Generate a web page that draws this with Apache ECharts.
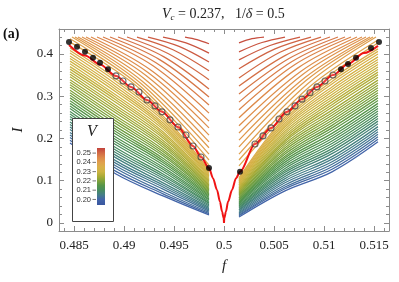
<!DOCTYPE html>
<html><head><meta charset="utf-8">
<script src="https://cdn.jsdelivr.net/npm/echarts@6/dist/echarts.min.js"></script>
<style>html,body{margin:0;padding:0;background:#fff}#c{width:399px;height:282px}</style>
</head><body><div id="c"></div>
<script>
// ---------- data ----------
const xTicks = [0.485, 0.49, 0.495, 0.5, 0.505, 0.51, 0.515];
const xMinor = [0.484,0.486,0.487,0.488,0.489,0.491,0.492,0.493,0.494,0.496,0.497,0.498,0.499,0.501,0.502,0.503,0.504,0.506,0.507,0.508,0.509,0.511,0.512,0.513,0.514,0.516];
const yTicks = [0, 0.1, 0.2, 0.3, 0.4];
const yMinor = [0.02,0.04,0.06,0.08,0.12,0.14,0.16,0.18,0.22,0.24,0.26,0.28,0.32,0.34,0.36,0.38,0.42,0.44];
const barTickV = [0.25, 0.24, 0.23, 0.22, 0.21, 0.20];
const barTickLabels = ['0.25','0.24','0.23','0.22','0.21','0.20'];

// V values of the contour lines
const vBelow = [0.200,0.201,0.202,0.203,0.204,0.205,0.206,0.207,0.208,0.209,0.210,0.211,0.212,0.213,0.214,0.215,0.216,0.217,0.218,0.219,0.220,0.221,0.222,0.223,0.224,0.225,0.226,0.227,0.228,0.229,0.230,0.231,0.232,0.233,0.234,0.235,0.236];
const vAbove = [0.238,0.239,0.240,0.241,0.242,0.243,0.244,0.245,0.246,0.247,0.248,0.249,0.250,0.251,0.252,0.253,0.254];

// left block, lines below the critical curve: I at these f
const leftBelowF = [0.4846, 0.4892, 0.4939, 0.4985];
const leftBelowI = [
[0.189,0.116,0.064,0.019],[0.196,0.122,0.069,0.022],[0.202,0.129,0.074,0.025],[0.208,0.135,0.080,0.028],
[0.214,0.141,0.085,0.031],[0.221,0.147,0.090,0.034],[0.227,0.154,0.095,0.037],[0.233,0.160,0.101,0.040],
[0.239,0.166,0.106,0.043],[0.246,0.172,0.111,0.046],[0.252,0.178,0.116,0.048],[0.258,0.185,0.122,0.051],
[0.264,0.191,0.127,0.054],[0.271,0.197,0.132,0.057],[0.277,0.203,0.138,0.060],[0.283,0.210,0.143,0.063],
[0.289,0.216,0.148,0.066],[0.296,0.222,0.153,0.069],[0.302,0.228,0.159,0.072],[0.308,0.235,0.164,0.075],
[0.314,0.241,0.169,0.078],[0.321,0.247,0.174,0.081],[0.327,0.253,0.180,0.084],[0.333,0.260,0.185,0.087],
[0.339,0.266,0.190,0.090],[0.346,0.272,0.195,0.093],[0.352,0.278,0.201,0.096],[0.358,0.285,0.206,0.099],
[0.364,0.291,0.211,0.102],[0.370,0.297,0.216,0.105],[0.377,0.303,0.222,0.108],[0.383,0.310,0.227,0.111],
[0.389,0.316,0.232,0.114],[0.395,0.322,0.237,0.117],[0.402,0.328,0.243,0.120],[0.408,0.335,0.248,0.122],
[0.414,0.341,0.253,0.125]];

// right block, lines below the critical curve
const rightBelowF = [0.5015, 0.5061, 0.5108, 0.5154];
const rightBelowI = [
[0.014,0.076,0.121,0.192],[0.017,0.081,0.127,0.198],[0.019,0.085,0.133,0.204],[0.022,0.090,0.139,0.210],
[0.024,0.095,0.145,0.216],[0.027,0.100,0.151,0.222],[0.030,0.105,0.157,0.228],[0.032,0.110,0.164,0.235],
[0.035,0.115,0.170,0.241],[0.037,0.120,0.176,0.247],[0.040,0.124,0.182,0.253],[0.042,0.129,0.188,0.259],
[0.045,0.134,0.194,0.265],[0.048,0.139,0.200,0.271],[0.050,0.144,0.206,0.277],[0.053,0.149,0.212,0.283],
[0.055,0.154,0.219,0.290],[0.058,0.158,0.225,0.296],[0.060,0.163,0.231,0.302],[0.063,0.168,0.237,0.308],
[0.066,0.173,0.243,0.314],[0.068,0.178,0.249,0.320],[0.071,0.183,0.255,0.326],[0.073,0.188,0.261,0.332],
[0.076,0.193,0.267,0.338],[0.078,0.197,0.274,0.345],[0.081,0.202,0.280,0.351],[0.083,0.207,0.286,0.357],
[0.086,0.212,0.292,0.363],[0.089,0.217,0.298,0.369],[0.091,0.222,0.304,0.375],[0.094,0.227,0.310,0.381],
[0.096,0.231,0.316,0.387],[0.099,0.236,0.322,0.393],[0.101,0.241,0.329,0.400],[0.104,0.246,0.335,0.406],
[0.107,0.251,0.341,0.412]];

// lines above the critical curve: [f, I] points
const leftAbove = [
[[0.4846,0.428],[0.4916,0.317],[0.4985,0.137]],
[[0.4846,0.436],[0.4916,0.324],[0.4985,0.149]],
[[0.4848,0.440],[0.4917,0.330],[0.4985,0.163]],
[[0.4851,0.440],[0.4918,0.336],[0.4985,0.178]],
[[0.4854,0.440],[0.4920,0.342],[0.4985,0.192]],
[[0.4858,0.440],[0.4922,0.349],[0.4985,0.208]],
[[0.4862,0.440],[0.4924,0.356],[0.4985,0.225]],
[[0.4867,0.440],[0.4926,0.363],[0.4985,0.241]],
[[0.4873,0.440],[0.4929,0.372],[0.4985,0.260]],
[[0.4879,0.440],[0.4932,0.379],[0.4985,0.279]],
[[0.4886,0.440],[0.4936,0.386],[0.4985,0.298]],
[[0.4894,0.440],[0.4940,0.393],[0.4985,0.317]],
[[0.4903,0.440],[0.4944,0.401],[0.4985,0.339]],
[[0.4913,0.440],[0.4949,0.410],[0.4985,0.360]],
[[0.4924,0.440],[0.4955,0.418],[0.4985,0.381]],
[[0.4939,0.440],[0.4962,0.426],[0.4985,0.402]],
[[0.4961,0.440],[0.4973,0.434],[0.4985,0.424]]];
const rightAbove = [
[[0.5015,0.135],[0.5085,0.312],[0.5154,0.426]],
[[0.5015,0.149],[0.5085,0.321],[0.5154,0.433]],
[[0.5015,0.163],[0.5084,0.330],[0.5152,0.440]],
[[0.5015,0.180],[0.5082,0.337],[0.5149,0.440]],
[[0.5015,0.196],[0.5081,0.344],[0.5146,0.440]],
[[0.5015,0.213],[0.5079,0.352],[0.5142,0.440]],
[[0.5015,0.230],[0.5077,0.359],[0.5138,0.440]],
[[0.5015,0.249],[0.5074,0.367],[0.5133,0.440]],
[[0.5015,0.268],[0.5071,0.375],[0.5127,0.440]],
[[0.5015,0.286],[0.5068,0.382],[0.5121,0.440]],
[[0.5015,0.305],[0.5065,0.389],[0.5114,0.440]],
[[0.5015,0.324],[0.5061,0.396],[0.5106,0.440]],
[[0.5015,0.343],[0.5056,0.404],[0.5097,0.440]],
[[0.5015,0.365],[0.5051,0.412],[0.5087,0.440]],
[[0.5015,0.386],[0.5046,0.420],[0.5076,0.440]],
[[0.5015,0.405],[0.5038,0.427],[0.5061,0.440]],
[[0.5015,0.426],[0.5028,0.436],[0.5040,0.440]]];

// critical curve
const redLeftF = [0.4845,0.4861,0.4876,0.4892,0.4907,0.4923,0.4938,0.4954,0.4969,0.4977,0.4985,0.4989,0.4993,0.4996,0.4998,0.49997,0.5000];
const redLeftI = [0.421,0.396,0.375,0.348,0.322,0.291,0.263,0.227,0.182,0.156,0.130,0.106,0.078,0.050,0.027,0.011,0.000];
const redRightF = [0.5000,0.50003,0.5002,0.5004,0.5008,0.5012,0.5016,0.5031,0.5047,0.5063,0.5078,0.5093,0.5109,0.5124,0.5140,0.5154];
const redRightI = [0.000,0.011,0.027,0.050,0.078,0.106,0.121,0.187,0.225,0.263,0.293,0.322,0.350,0.376,0.402,0.419];

// markers
const blackF = [0.4845,0.4853,0.4861,0.4869,0.4876,0.4884,0.4985,0.5016,0.5117,0.5124,0.5132,0.5147,0.5155];
const blackI = [0.428,0.417,0.405,0.391,0.379,0.364,0.130,0.121,0.364,0.376,0.391,0.414,0.428];
const openF = [0.4892,0.4899,0.4907,0.4915,0.4923,0.4931,0.4938,0.4946,0.4954,0.4962,0.4969,0.4977,
               0.5031,0.5039,0.5047,0.5055,0.5063,0.5071,0.5078,0.5086,0.5093,0.5101,0.5109];
const openI = [0.348,0.336,0.322,0.310,0.291,0.277,0.263,0.244,0.227,0.208,0.182,0.156,
               0.187,0.206,0.225,0.246,0.263,0.277,0.293,0.308,0.322,0.336,0.350];

// colour map (V -> colour)
const cmapV = [0.194,0.200,0.205,0.210,0.215,0.220,0.225,0.230,0.235,0.240,0.245,0.250,0.2555];
const cmapC = ['#3a56a0','#4264a8','#457e88','#478c60','#55954a','#7ea23a','#aaab36','#cdb443','#d9b049','#e0a04e','#dd8a4a','#d26a45','#c2423c'];

// ---------- helpers ----------
function hex2rgb(h){return [parseInt(h.slice(1,3),16),parseInt(h.slice(3,5),16),parseInt(h.slice(5,7),16)];}
function vColor(v){
  if (v<=cmapV[0]) return cmapC[0];
  for (let i=1;i<cmapV.length;i++){
    if (v<=cmapV[i]){
      const t=(v-cmapV[i-1])/(cmapV[i]-cmapV[i-1]);
      const a=hex2rgb(cmapC[i-1]), b=hex2rgb(cmapC[i]);
      return 'rgb('+a.map((x,j)=>Math.round(x+(b[j]-x)*t)).join(',')+')';
    }
  }
  return cmapC[cmapC.length-1];
}
const zip=(F,I)=>F.map((f,i)=>[f,I[i]]);
function contour(points,v){
  return {type:'line',data:points,showSymbol:false,smooth:0.35,silent:true,animation:false,z:2,
          lineStyle:{color:vColor(v),width:1.25}};
}

const series=[];
leftBelowI.forEach((row,k)=>series.push(contour(row.map((I,i)=>[leftBelowF[i],I]),vBelow[k])));
rightBelowI.forEach((row,k)=>series.push(contour(row.map((I,i)=>[rightBelowF[i],I]),vBelow[k])));
leftAbove.forEach((pts,j)=>series.push(contour(pts,vAbove[j])));
rightAbove.forEach((pts,j)=>series.push(contour(pts,vAbove[j])));
[zip(redLeftF,redLeftI),zip(redRightF,redRightI)].forEach(d=>series.push({
  type:'line',data:d,showSymbol:false,smooth:0.3,smoothMonotone:'x',silent:true,animation:false,z:3,
  lineStyle:{color:'#f01414',width:2}}));
series.push({type:'scatter',data:zip(openF,openI),symbol:'circle',symbolSize:6,silent:true,animation:false,z:4,
  itemStyle:{color:'rgba(255,255,255,0.2)',borderColor:'#444',borderWidth:1.1}});
series.push({type:'scatter',data:zip(blackF,blackI),symbol:'circle',symbolSize:6,silent:true,animation:false,z:5,
  itemStyle:{color:'#000'}});

// ---------- axes ----------
const X0=0.4835, X1=0.5165, Y0=-0.019, Y1=0.459;
const frame='#8c8c8c';
const serif='"Liberation Serif", "DejaVu Serif", serif';
function xa(pos,vals,len,labels,line){
  return {type:'value',position:pos,min:X0,max:X1,
    axisLine:{show:line,onZero:false,lineStyle:{color:frame,width:1}},
    axisTick:{show:true,inside:true,length:len,customValues:vals,lineStyle:{color:frame}},
    axisLabel:{show:labels,customValues:vals,margin:8,color:'#222',fontFamily:serif,fontSize:13,
      formatter:v=>String(+v.toFixed(3))},
    splitLine:{show:false},
    name:labels?'f':'',nameLocation:'middle',nameGap:28,
    nameTextStyle:{fontFamily:serif,fontStyle:'italic',fontSize:15,color:'#222'}};
}
function ya(pos,vals,len,labels,line){
  return {type:'value',position:pos,min:Y0,max:Y1,
    axisLine:{show:line,onZero:false,lineStyle:{color:frame,width:1}},
    axisTick:{show:true,inside:true,length:len,customValues:vals,lineStyle:{color:frame}},
    axisLabel:{show:labels,customValues:vals,margin:6,color:'#222',fontFamily:serif,fontSize:13,
      formatter:v=>String(+v.toFixed(2))},
    splitLine:{show:false},
    name:labels?'I':'',nameLocation:'middle',nameGap:30,nameRotate:90,
    nameTextStyle:{fontFamily:serif,fontStyle:'italic',fontSize:15,color:'#222'}};
}

// ---------- legend (colour bar) ----------
const barTop=148, barH=57, barX=97, barW=8, barVmax=0.2555, barVmin=0.194;
const barY=v=>barTop+(barVmax-v)/(barVmax-barVmin)*barH;
const graphic=[
  {type:'rect',z:100,shape:{x:72.5,y:118.5,width:41,height:103},style:{fill:'#fff',stroke:'#444',lineWidth:1}},
  {type:'text',z:101,x:92,y:132,style:{text:'V',font:'italic 16px '+serif,fill:'#222',align:'center',verticalAlign:'middle'}},
  {type:'rect',z:101,shape:{x:barX,y:barTop,width:barW,height:barH},style:{
    fill:new echarts.graphic.LinearGradient(0,0,0,1,cmapV.map((v,i)=>({offset:(barVmax-v)/(barVmax-barVmin),color:cmapC[i]})).reverse())}}
];
barTickV.forEach((v,i)=>{
  graphic.push({type:'text',z:101,x:91,y:barY(v),style:{text:barTickLabels[i],font:'7.5px "Liberation Sans", sans-serif',fill:'#333',align:'right',verticalAlign:'middle'}});
  graphic.push({type:'line',z:101,shape:{x1:92.5,y1:barY(v),x2:96,y2:barY(v)},style:{stroke:'#555',lineWidth:0.8}});
});
graphic.push({type:'text',z:101,x:3,y:34,style:{text:'(a)',font:'bold 14px '+serif,fill:'#111',align:'left',verticalAlign:'middle'}});

const chart=echarts.init(document.getElementById('c'),null,{renderer:'canvas'});
chart.setOption({
  animation:false,
  backgroundColor:'#fff',
  title:{text:'{i|V}{s|c}{n| = 0.237,   1/}{i|δ}{n| = 0.5}',left:157,top:1,
    textStyle:{fontWeight:'normal',rich:{
      i:{fontFamily:serif,fontStyle:'italic',fontWeight:'normal',fontSize:14,color:'#222'},
      n:{fontFamily:serif,fontWeight:'normal',fontSize:14,color:'#222'},
      s:{fontFamily:serif,fontStyle:'italic',fontWeight:'normal',fontSize:9,color:'#222',padding:[7,0,0,0]}}}},
  grid:{left:59,top:29,width:330,height:202,containLabel:false},
  xAxis:[xa('bottom',xTicks,5,true,true),xa('bottom',xMinor,3,false,false),xa('top',xTicks,5,false,true),xa('top',xMinor,3,false,false)],
  yAxis:[ya('left',yTicks,5,true,true),ya('left',yMinor,3,false,false),ya('right',yTicks,5,false,true),ya('right',yMinor,3,false,false)],
  graphic:graphic,
  series:series
});
</script></body></html>
